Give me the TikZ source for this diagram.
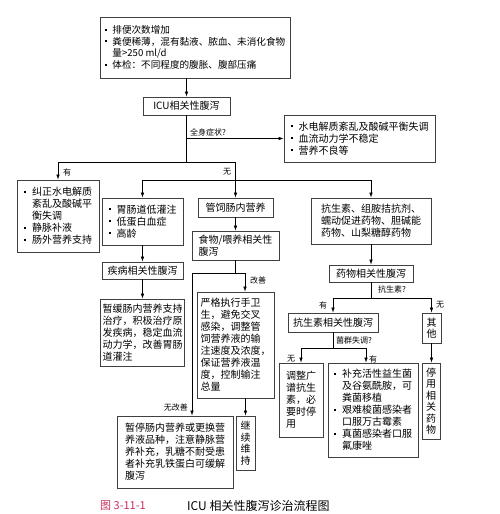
\documentclass[tikz,border=0pt]{standalone}
\usepackage{fontspec}
\setmainfont{Noto Sans CJK SC}
\usepackage{xcolor}
\usetikzlibrary{arrows.meta}

\definecolor{capred}{RGB}{200,45,90}
\newcommand{\itm}{\makebox[0.8em][l]{\rule[0.3em]{2pt}{2pt}}}
\newcommand{\ind}{\hspace*{0.8em}}

\tikzset{
	box/.style={draw=black!75, line width=0.8pt, inner sep=2pt, align=left,
		font=\fontsize{10}{12}\selectfont},
	vbox/.style={box, align=center, font=\fontsize{10}{11.5}\selectfont},
	lab/.style={inner sep=1pt, font=\fontsize{8}{9}\selectfont},
	ln/.style={line width=0.6pt},
	arr/.style={ln, -{Latex[length=5pt,width=3.5pt]}},
}

\begin{document}
\begin{tikzpicture}[x=1pt, y=-1pt]
			\useasboundingbox (0,0) rectangle (500,514);
			% top level
			\node[box, minimum width=190, minimum height=61, font=\fontsize{9.6}{11.7}\selectfont] (sym) at (195,47.5)
				{\itm 排便次数增加\\\itm 粪便稀薄，混有黏液、脓血、未消化食物\\\ind 量>250 ml/d\\\itm 体检：不同程度的腹胀、腹部压痛};
			\node[box, minimum width=87, minimum height=18] (icu) at (186.5,106) {ICU相关性腹泻};
			\node[box, minimum width=151, minimum height=47] (qsh) at (359.5,138.5)
				{\itm 水电解质紊乱及酸碱平衡失调\\\itm 血流动力学不稳定\\\itm 营养不良等};
			% left column
			\node[box, minimum width=82, minimum height=72] (jzh) at (58,216)
				{\itm 纠正水电解质\\\ind 紊乱及酸碱平\\\ind 衡失调\\\itm 静脉补液\\\itm 肠外营养支持};
			\node[box, minimum width=81, minimum height=47] (wch) at (142.5,221.5)
				{\itm 胃肠道低灌注\\\itm 低蛋白血症\\\itm 高龄};
			\node[box, minimum width=81, minimum height=17] (jbx) at (142.5,270.5) {疾病相关性腹泻};
			\node[box, minimum width=84, minimum height=67] (zhh) at (142.5,332.5)
				{暂缓肠内营养支持\\治疗，积极治疗原\\发疾病，稳定血流\\动力学，改善胃肠\\道灌注};
			% middle column
			\node[box, minimum width=75, minimum height=19] (gsy) at (235.5,207.5) {管饲肠内营养};
			\node[box, minimum width=87, minimum height=29] (swx) at (235.5,245.5) {食物/喂养相关性\\腹泻};
			\node[box, minimum width=77, minimum height=106] (yge) at (235.5,345)
				{严格执行手卫\\生，避免交叉\\感染，调整管\\饲营养液的输\\注速度及浓度，\\保证营养液温\\度，控制输注\\总量};
			\node[box, minimum width=116, minimum height=72] (ztg) at (175,452)
				{暂停肠内营养或更换营\\养液品种，注意静脉营\\养补充，乳糖不耐受患\\者补充乳铁蛋白可缓解\\腹泻};
			\node[vbox, minimum width=19, minimum height=54] (jxw) at (245.5,443) {继\\续\\维\\持};
			% right column
			\node[box, minimum width=120, minimum height=46] (kss) at (371,221)
				{抗生素、组胺拮抗剂、\\蠕动促进药物、胆碱能\\药物、山梨糖醇药物};
			\node[box, minimum width=84, minimum height=17] (ywx) at (371,273.5) {药物相关性腹泻};
			\node[box, minimum width=90, minimum height=19] (kxs) at (333,322.5) {抗生素相关性腹泻};
			\node[vbox, minimum width=19, minimum height=30] (qta) at (431.5,328) {其\\他};
			\node[box, minimum width=44, minimum height=74] (tzh) at (301,400)
				{调整广\\谱抗生\\素，必\\要时停\\用};
			\node[box, minimum width=90, minimum height=94] (bch) at (373,410)
				{\itm 补充活性益生菌\\\ind 及谷氨酰胺，可\\\ind 粪菌移植\\\itm 艰难梭菌感染者\\\ind 口服万古霉素\\\itm 真菌感染者口服\\\ind 氟康唑};
			\node[vbox, minimum width=18, minimum height=76] (tyy) at (431,401) {停\\用\\相\\关\\药\\物};
			% branch points
			\coordinate (j0) at (icu |- qsh);
			\coordinate (j1) at (186.5,162);
			\coordinate (j2) at (235.5,180);
			\coordinate (j3) at (235.5,273);
			\coordinate (j5) at (371,298);
			\coordinate (j6) at (333,348);
			% connectors
			\draw[arr] (sym.south -| icu) -- (icu);
			\draw[ln] (icu) -- (j1);
			\draw[arr] (j0) -- (qsh);
			\draw[arr] (j1) -| (jzh.north);
			\draw[arr] (j1) -| (gsy.north);
			\draw[arr] (j2) -| (wch.north);
			\draw[arr] (j2) -| (kss.north);
			\draw[arr] (wch) -- (jbx);
			\draw[arr] (jbx) -- (zhh);
			\draw[arr] (gsy) -- (swx);
			\draw[ln] (swx) -- (j3);
			\draw[arr] (j3) -| ([xshift=9.5pt]yge.north);
			\draw[arr] (j3) -| ([xshift=17pt]ztg.north);
			\draw[arr] (yge.south -| jxw) -- (jxw);
			\draw[arr] (kss) -- (ywx);
			\draw[ln] (ywx) -- (j5);
			\draw[arr] (j5) -| (kxs.north);
			\draw[arr] (j5) -| (qta.north);
			\draw[ln] (kxs) -- (j6);
			\draw[arr] (j6) -| (tzh.north);
			\draw[arr] (j6) -| ([xshift=-7pt]bch.north);
			\draw[arr] (qta) -- (qta |- tyy.north);
			% labels
			\node[lab, anchor=west] (lqs) at (189,132) {全身症状?};
			\node[lab] (lyes1) at (67,172) {有};
			\node[lab] (lno1) at (227,172) {无};
			\node[lab, anchor=west] (lgs) at (249,280) {改善};
			\node[lab, anchor=east] (lngs) at (189,407) {无改善};
			\node[lab, anchor=west] (lkss) at (377,289) {抗生素?};
			\node[lab] (lyes2) at (323,305) {有};
			\node[lab] (lno2) at (440,305) {无};
			\node[lab, anchor=west] (ljq) at (335,340) {菌群失调?};
			\node[lab] (lno3) at (291,359) {无};
			\node[lab] (lyes3) at (373,359) {有};
			% caption
			\node[anchor=west, inner sep=0pt, text=capred, font=\fontsize{11}{12}\selectfont] (fig) at (100,506) {图 3-11-1};
			\node[anchor=west, inner sep=0pt, font=\fontsize{12}{13}\selectfont] (cap) at (187,506) {ICU 相关性腹泻诊治流程图};
\end{tikzpicture}
\end{document}
